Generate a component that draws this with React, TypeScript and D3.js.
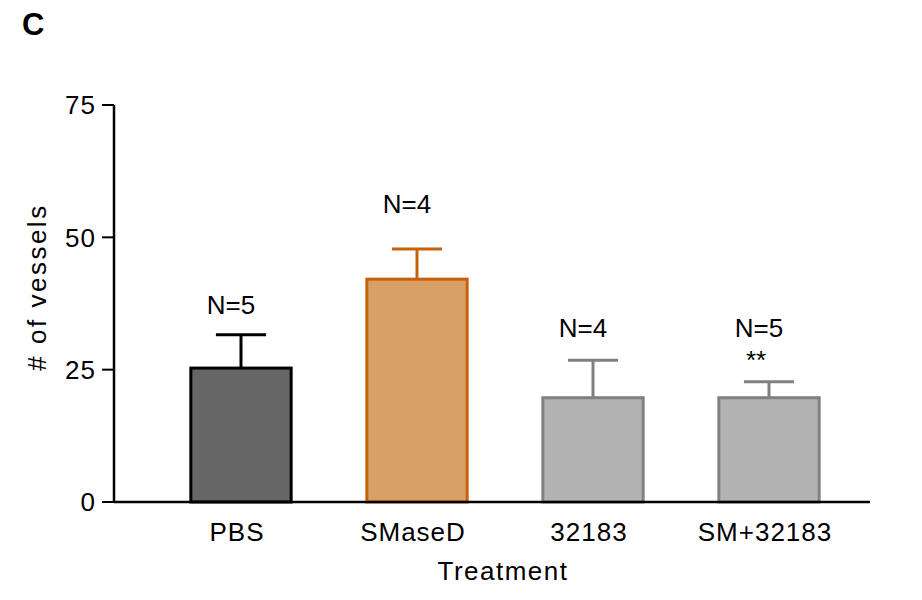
import React from "react";
import * as d3 from "d3";

const categories = ["PBS", "SMaseD", "32183", "SM+32183"];
const means = [25.3, 42.1, 19.7, 19.7];
const errors = [6.3, 5.7, 7.1, 3.0];
const nLabels = ["N=5", "N=4", "N=4", "N=5"];
const nLabelAt = [35.5, 54.6, 31.2, 31.2];
const starLabels = ["", "", "", "**"];
const starAt = [0, 0, 0, 25.2];
const fills = ["#666666", "#d9a066", "#b3b3b3", "#b3b3b3"];
const strokes = ["#000000", "#c8600a", "#808080", "#808080"];
const yTicks = [0, 25, 50, 75];

const W = 922;
const H = 600;
const font = "'Liberation Sans', Arial, sans-serif";

const App = () => {
    const x = d3.scaleBand<string>()
        .domain(categories)
        .range([153, 857])
        .paddingInner(0.43)
        .paddingOuter(0.215);
    const y = d3.scaleLinear().domain([0, 75]).range([502, 105]);
    const axisX = 114;
    const bw = x.bandwidth();

    return (
        <svg width={W} height={H} style={{ position: "absolute", left: 0, top: 0, background: "#fff" }}>
            <text x={22} y={35} fontFamily={font} fontWeight="bold" fontSize={31}>C</text>

            {/* bars */}
            {categories.map((c, i) => {
                const cx = x(c)! + bw / 2;
                return (
                    <g key={c}>
                        <line x1={cx} x2={cx} y1={y(means[i])} y2={y(means[i] + errors[i])}
                            stroke={strokes[i]} strokeWidth={3} />
                        <line x1={cx - bw / 4} x2={cx + bw / 4}
                            y1={y(means[i] + errors[i])} y2={y(means[i] + errors[i])}
                            stroke={strokes[i]} strokeWidth={3} />
                        <rect x={x(c)} y={y(means[i])} width={bw} height={y(0) - y(means[i])}
                            fill={fills[i]} stroke={strokes[i]} strokeWidth={3} />
                        <text x={cx - 10} y={y(nLabelAt[i])} textAnchor="middle"
                            fontFamily={font} fontSize={26}>{nLabels[i]}</text>
                        {starLabels[i] && (
                            <text x={cx - 13} y={y(starAt[i])} textAnchor="middle"
                                fontFamily={font} fontSize={26}>{starLabels[i]}</text>
                        )}
                        <text x={cx - 4} y={541} textAnchor="middle" fontFamily={font}
                            fontSize={26} letterSpacing={1}>{c}</text>
                    </g>
                );
            })}

            {/* axes */}
            <line x1={axisX} x2={axisX} y1={y(75)} y2={y(0)} stroke="#000" strokeWidth={2.5} />
            <line x1={axisX} x2={870} y1={y(0)} y2={y(0)} stroke="#000" strokeWidth={2.5} />
            {yTicks.map(t => (
                <g key={t}>
                    <line x1={axisX - 12} x2={axisX} y1={y(t)} y2={y(t)} stroke="#000" strokeWidth={2} />
                    <text x={96} y={y(t)} dy="0.36em" textAnchor="end" fontFamily={font}
                        fontSize={26} letterSpacing={1}>{t}</text>
                </g>
            ))}

            <text x={503} y={580} textAnchor="middle" fontFamily={font} fontSize={26}
                letterSpacing={1.5}>Treatment</text>
            <text transform="translate(46,287) rotate(-90)" textAnchor="middle" fontFamily={font}
                fontSize={26} letterSpacing={2.5}># of vessels</text>
        </svg>
    );
};

export default App;
